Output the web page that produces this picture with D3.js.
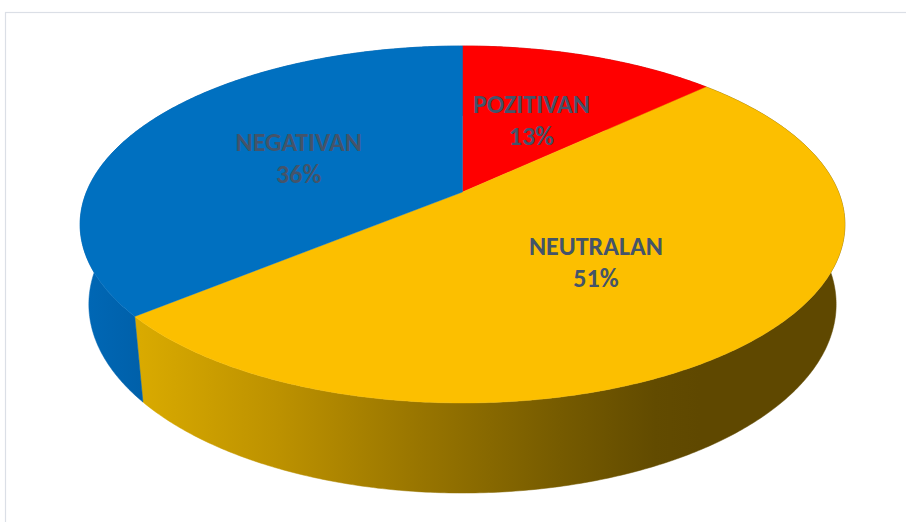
<!DOCTYPE html>
<html>
<head>
<meta charset="utf-8">
<script src="https://cdn.jsdelivr.net/npm/d3@7"></script>
<style>
  html, body { margin: 0; padding: 0; background: #ffffff; }
  svg { display: block; }
</style>
</head>
<body>
<svg id="chart" width="906" height="522"></svg>
<script>
// ---- data ----
const categories = ["POZITIVAN", "NEUTRALAN", "NEGATIVAN"];
const values = [13, 51, 36];
const labels = ["13%", "51%", "36%"];
const topColors = ["#FF0000", "#FCBF00", "#0070C0"];

// ---- layout / camera ----
const W = 906, H = 522;
const svg = d3.select("#chart");
const X0 = 462.5, Y0 = 192;
const sinA = 0.459, cosA = 0.888, Dcam = 4.88, F = 1835;
const depth = 0.241;

function proj(theta, r, Y) {
  const X = r * Math.sin(theta), Z = r * Math.cos(theta);
  const yc = Y * cosA + Z * sinA;
  const zc = -Y * sinA + Z * cosA + Dcam;
  return [X0 + F * X / zc, Y0 - F * yc / zc];
}

// frame
svg.append("rect").attr("x", 5.5).attr("y", 12.5).attr("width", 940).attr("height", 540)
  .attr("fill", "#ffffff").attr("stroke", "#dbdfe6").attr("stroke-width", 1.2);

const pie = d3.pie().sort(null).value(d => d.v).startAngle(0).endAngle(2 * Math.PI);
const arcs = pie(categories.map((c, i) => ({ c, v: values[i], i })));

// gradients for side walls
const defs = svg.append("defs");
const gY = defs.append("linearGradient").attr("id", "sideY")
  .attr("gradientUnits", "userSpaceOnUse").attr("x1", 140).attr("x2", 700).attr("y1", 0).attr("y2", 0);
[[0, "#d9aa00"], [0.25, "#bc9100"], [0.5, "#987500"], [0.75, "#765b00"], [0.92, "#624b00"], [1, "#5f4800"]]
  .forEach(s => gY.append("stop").attr("offset", s[0]).attr("stop-color", s[1]));
const gB = defs.append("linearGradient").attr("id", "sideB")
  .attr("gradientUnits", "userSpaceOnUse").attr("x1", 80).attr("x2", 150).attr("y1", 0).attr("y2", 0);
[[0, "#0068b6"], [1, "#005fa8"]].forEach(s => gB.append("stop").attr("offset", s[0]).attr("stop-color", s[1]));
const sideFill = ["#b00000", "url(#sideY)", "url(#sideB)"];

const line = d3.line();
function arcPoints(a0, a1, r, Y) {
  const n = Math.max(8, Math.ceil((a1 - a0) / 0.01));
  const pts = [];
  for (let k = 0; k <= n; k++) pts.push(proj(a0 + (a1 - a0) * k / n, r, Y));
  return pts;
}

// side walls
const sides = svg.append("g");
arcs.forEach((a, i) => {
  const top = arcPoints(a.startAngle, a.endAngle, 1, 0);
  const bot = arcPoints(a.startAngle, a.endAngle, 1, -depth).reverse();
  sides.append("path").attr("d", line(top.concat(bot)) + "Z")
    .attr("fill", sideFill[i]).attr("stroke", sideFill[i]).attr("stroke-width", 0.5);
});

// top faces
const tops = svg.append("g");
arcs.forEach((a, i) => {
  const pts = [proj(0, 0, 0)].concat(arcPoints(a.startAngle, a.endAngle, 1, 0));
  tops.append("path").attr("d", line(pts) + "Z")
    .attr("fill", topColors[i]).attr("stroke", topColors[i]).attr("stroke-width", 0.4);
});

// labels
const lab = svg.append("g")
  .attr("font-family", "Calibri, Carlito, Lato, 'Liberation Sans', Arial, sans-serif")
  .attr("font-weight", "bold").attr("font-size", 26).attr("fill", "#44546A")
  .attr("text-anchor", "middle");
arcs.forEach((a, i) => {
  const mid = (a.startAngle + a.endAngle) / 2;
  const [lx, ly] = proj(mid, 0.5, 0);
  lab.append("text").attr("x", lx).attr("y", ly - 6).text(categories[i]);
  lab.append("text").attr("x", lx).attr("y", ly + 26).text(labels[i]);
});
</script>
</body>
</html>
